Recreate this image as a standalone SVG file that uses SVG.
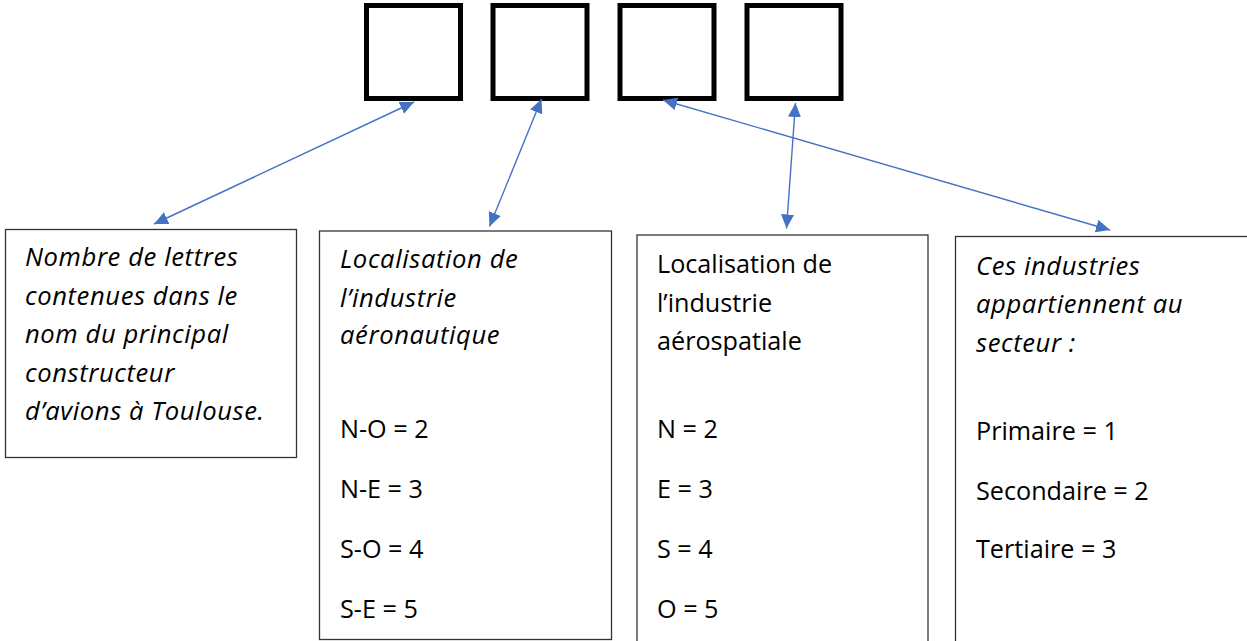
<svg xmlns="http://www.w3.org/2000/svg" width="1247" height="641" viewBox="0 0 1247 641">
<style>
.sq{fill:#fff;stroke:#000;stroke-width:5}
.box{fill:#fff;stroke:#333;stroke-width:1.3}
.t{font-family:"Open Sans","Noto Sans",sans-serif;font-size:25.2px;fill:#000}
.i{font-style:italic;font-size:25.6px;letter-spacing:0.6px}
.c{stroke:#4472C4;stroke-width:1.4;fill:none;marker-start:url(#ah);marker-end:url(#ah)}
</style>
<defs>
<marker id="ah" markerUnits="userSpaceOnUse" markerWidth="15" markerHeight="13" refX="14" refY="6.5" orient="auto-start-reverse" viewBox="0 0 15 13">
<path d="M0,0 L14,6.5 L0,13 z" fill="#4472C4"/>
</marker>
</defs>
<rect width="1247" height="641" fill="#fff"/>
<g id="sq1"><rect class="sq" x="366.5" y="5.5" width="94" height="93"/></g>
<g id="sq2"><rect class="sq" x="493" y="5.5" width="94" height="93"/></g>
<g id="sq3"><rect class="sq" x="620" y="5.5" width="94" height="93"/></g>
<g id="sq4"><rect class="sq" x="747" y="5.5" width="94" height="93"/></g>
<g id="box1">
<rect class="box" x="5.5" y="229.5" width="291" height="228"/>
<text class="t i" x="25" y="266">Nombre de lettres</text>
<text class="t i" x="25" y="305">contenues dans le</text>
<text class="t i" x="25" y="343">nom du principal</text>
<text class="t i" x="25" y="382">constructeur</text>
<text class="t i" x="25" y="420">d’avions à Toulouse.</text>
</g>
<g id="box2">
<rect class="box" x="319.5" y="231" width="292" height="408.5"/>
<text class="t i" x="340" y="268">Localisation de</text>
<text class="t i" x="340" y="307">l’industrie</text>
<text class="t i" x="340" y="344">aéronautique</text>
<text class="t" x="340" y="438">N-O = 2</text>
<text class="t" x="340" y="498">N-E = 3</text>
<text class="t" x="340" y="558">S-O = 4</text>
<text class="t" x="340" y="618">S-E = 5</text>
</g>
<g id="box3">
<rect class="box" x="637" y="235" width="291" height="420"/>
<text class="t" x="657" y="273">Localisation de</text>
<text class="t" x="657" y="312">l’industrie</text>
<text class="t" x="657" y="350">aérospatiale</text>
<text class="t" x="657" y="438">N = 2</text>
<text class="t" x="657" y="498">E = 3</text>
<text class="t" x="657" y="558">S = 4</text>
<text class="t" x="657" y="618">O = 5</text>
</g>
<g id="box4">
<rect class="box" x="955.5" y="236.5" width="310" height="420"/>
<text class="t i" x="976" y="275">Ces industries</text>
<text class="t i" x="976" y="313">appartiennent au</text>
<text class="t i" x="976" y="352">secteur :</text>
<text class="t" x="976" y="440">Primaire = 1</text>
<text class="t" x="976" y="500">Secondaire = 2</text>
<text class="t" x="976" y="558">Tertiaire = 3</text>
</g>
<g id="connectors">
<line class="c" x1="414" y1="102" x2="154" y2="224"/>
<line class="c" x1="541.5" y1="99" x2="489.5" y2="226.5"/>
<line class="c" x1="795.5" y1="103" x2="786.5" y2="228.5"/>
<line class="c" x1="663" y1="100" x2="1110" y2="230"/>
</g>
</svg>
